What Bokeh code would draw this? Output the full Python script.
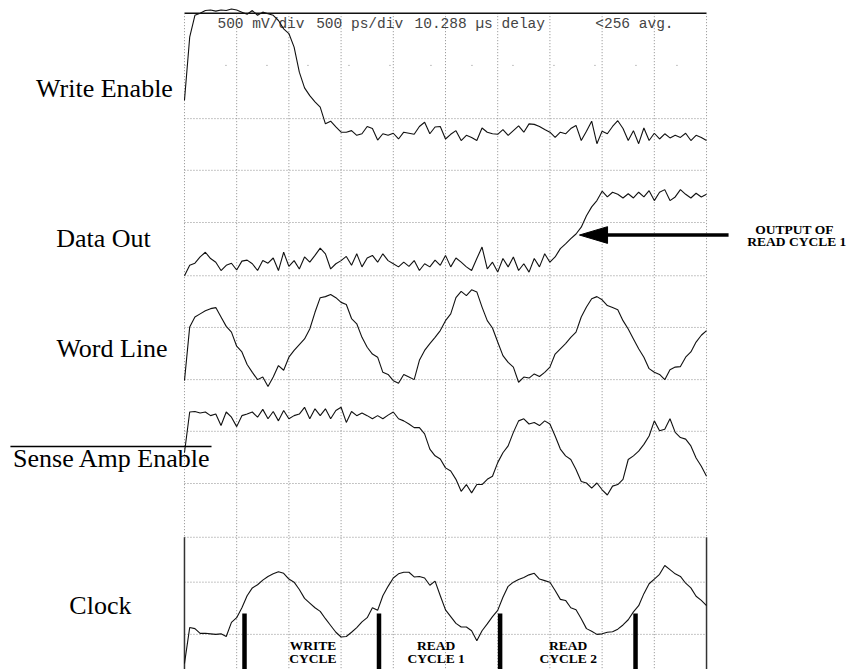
from bokeh.plotting import figure
from bokeh.models import Range1d
from bokeh.core.properties import value
from bokeh.embed import file_html
from bokeh.resources import INLINE

# ---------------- data (time in ps, level in graticule divisions below the top edge) -------------
t_ps = [0, 50, 100, 150, 200, 250, 300, 350, 400, 450,
        500, 550, 600, 650, 700, 750, 800, 850, 900, 950,
        1000, 1050, 1100, 1150, 1200, 1250, 1300, 1350, 1400, 1450,
        1500, 1550, 1600, 1650, 1700, 1750, 1800, 1850, 1900, 1950,
        2000, 2050, 2100, 2150, 2200, 2250, 2300, 2350, 2400, 2450,
        2500, 2550, 2600, 2650, 2700, 2750, 2800, 2850, 2900, 2950,
        3000, 3050, 3100, 3150, 3200, 3250, 3300, 3350, 3400, 3450,
        3500, 3550, 3600, 3650, 3700, 3750, 3800, 3850, 3900, 3950,
        4000, 4050, 4100, 4150, 4200, 4250, 4300, 4350, 4400, 4450,
        4500, 4550, 4600, 4650, 4700, 4750, 4800, 4850, 4900, 4950,
        5000]

write_enable = [1.67, 0.46, 0.04, 0.00, -0.05, -0.06, -0.04, -0.06, -0.05, -0.08,
                -0.06, -0.02, 0.02, -0.05, 0.04, -0.02, 0.01, 0.04, 0.14, 0.30,
                0.39, 0.65, 1.13, 1.43, 1.58, 1.70, 1.80, 2.12, 2.07, 2.18,
                2.28, 2.28, 2.25, 2.34, 2.31, 2.17, 2.21, 2.43, 2.31, 2.34,
                2.30, 2.41, 2.28, 2.30, 2.32, 2.17, 2.09, 2.31, 2.18, 2.17,
                2.41, 2.32, 2.25, 2.44, 2.34, 2.38, 2.44, 2.20, 2.28, 2.31,
                2.32, 2.23, 2.34, 2.25, 2.16, 2.28, 2.12, 2.13, 2.17, 2.23,
                2.28, 2.38, 2.28, 2.31, 2.21, 2.15, 2.44, 2.26, 2.07, 2.50,
                2.26, 2.31, 2.17, 2.06, 2.21, 2.44, 2.25, 2.50, 2.20, 2.44,
                2.30, 2.41, 2.31, 2.39, 2.34, 2.38, 2.30, 2.44, 2.34, 2.38,
                2.44]

data_out = [5.03, 4.83, 4.79, 4.67, 4.58, 4.70, 4.77, 4.93, 4.83, 4.79,
            4.92, 4.75, 4.73, 4.80, 4.93, 4.74, 4.79, 4.69, 4.93, 4.58,
            4.85, 4.74, 4.90, 4.67, 4.77, 4.64, 4.50, 4.61, 4.90, 4.80,
            4.74, 4.66, 4.83, 4.61, 4.86, 4.69, 4.64, 4.77, 4.61, 4.74,
            4.80, 4.86, 4.77, 4.85, 4.74, 4.93, 4.80, 4.86, 4.73, 4.83,
            4.64, 4.86, 4.69, 4.77, 4.86, 4.93, 4.70, 4.48, 4.90, 4.77,
            4.96, 4.70, 4.86, 4.67, 4.93, 4.80, 4.96, 4.70, 4.86, 4.61,
            4.77, 4.67, 4.51, 4.42, 4.32, 4.23, 4.10, 3.88, 3.71, 3.59,
            3.41, 3.52, 3.43, 3.47, 3.54, 3.46, 3.54, 3.43, 3.52, 3.40,
            3.59, 3.43, 3.38, 3.59, 3.52, 3.38, 3.47, 3.54, 3.45, 3.52,
            3.47]

word_line = [7.04, 6.01, 5.82, 5.76, 5.70, 5.66, 5.64, 5.82, 6.00, 6.11,
             6.38, 6.49, 6.73, 6.88, 7.02, 6.97, 7.15, 6.97, 6.75, 6.84,
             6.59, 6.46, 6.35, 6.24, 6.05, 5.73, 5.45, 5.43, 5.39, 5.45,
             5.54, 5.58, 5.85, 5.95, 6.21, 6.40, 6.53, 6.59, 6.88, 6.92,
             7.04, 7.09, 6.92, 6.97, 7.02, 6.65, 6.46, 6.33, 6.21, 6.08,
             5.89, 5.76, 5.45, 5.33, 5.41, 5.30, 5.34, 5.63, 5.89, 6.03,
             6.30, 6.56, 6.69, 6.78, 7.07, 6.97, 6.99, 6.91, 6.96, 6.88,
             6.78, 6.53, 6.43, 6.33, 6.21, 6.11, 5.82, 5.63, 5.47, 5.43,
             5.49, 5.60, 5.64, 5.68, 5.89, 6.05, 6.24, 6.43, 6.59, 6.81,
             6.88, 6.92, 7.02, 6.83, 6.78, 6.77, 6.59, 6.49, 6.30, 6.17,
             6.08]

sense_amp_enable = [8.42, 7.64, 7.63, 7.66, 7.64, 7.71, 7.68, 7.90, 7.64, 7.74,
                    7.92, 7.71, 7.68, 7.64, 7.74, 7.59, 7.77, 7.63, 7.81, 7.61,
                    7.77, 7.71, 7.68, 7.55, 7.77, 7.58, 7.71, 7.58, 7.77, 7.61,
                    7.55, 7.84, 7.63, 7.71, 7.66, 7.71, 7.77, 7.71, 7.77, 7.70,
                    7.64, 7.77, 7.81, 7.87, 7.94, 7.94, 8.06, 8.35, 8.48, 8.54,
                    8.71, 8.77, 8.93, 9.16, 9.03, 9.19, 9.03, 9.03, 8.93, 8.87,
                    8.61, 8.42, 8.29, 8.03, 7.81, 7.77, 7.87, 7.84, 7.90, 7.81,
                    7.87, 8.10, 8.35, 8.48, 8.55, 8.74, 8.97, 9.00, 9.10, 9.00,
                    9.13, 9.23, 9.06, 9.03, 8.93, 8.55, 8.48, 8.39, 8.26, 8.10,
                    7.81, 8.00, 7.97, 7.77, 8.03, 8.13, 8.16, 8.29, 8.52, 8.68,
                    8.87]

clock = [12.46, 11.77, 11.79, 11.88, 11.88, 11.89, 11.90, 11.89, 11.94, 11.67,
         11.58, 11.39, 11.16, 11.01, 10.95, 10.86, 10.79, 10.74, 10.70, 10.73,
         10.84, 10.90, 11.04, 11.21, 11.30, 11.39, 11.46, 11.60, 11.73, 11.86,
         11.95, 11.94, 11.86, 11.77, 11.66, 11.58, 11.39, 11.44, 11.16, 10.98,
         10.82, 10.74, 10.71, 10.71, 10.80, 10.79, 10.82, 10.96, 10.88, 11.16,
         11.43, 11.56, 11.69, 11.76, 11.76, 11.83, 12.02, 11.83, 11.70, 11.56,
         11.44, 11.19, 10.98, 10.90, 10.85, 10.81, 10.76, 10.73, 10.84, 10.87,
         10.90, 11.06, 11.23, 11.25, 11.39, 11.43, 11.60, 11.79, 11.84, 11.90,
         11.89, 11.86, 11.85, 11.80, 11.72, 11.62, 11.47, 11.35, 11.12, 10.93,
         10.84, 10.75, 10.58, 10.66, 10.74, 10.79, 10.92, 11.01, 11.17, 11.25,
         11.35]

trace_names = ["Write Enable", "Data Out", "Word Line", "Sense Amp Enable", "Clock"]
cycle_edges_ps = [575, 1863, 3023, 4320]
cycle_line1 = ["WRITE", "READ", "READ"]
cycle_line2 = ["CYCLE", "CYCLE 1", "CYCLE 2"]
scope_settings = ["500 mV/div", "500 ps/div", "10.288 \u00b5s delay", "<256 avg."]
callout_lines = ["OUTPUT OF", "READ CYCLE  1"]

# ---------------- layout / style ----------------
PS_PER_DIV = 500
N_DIV = 10
SCREEN_END = PS_PER_DIV * N_DIV
GRID_COLOR = "#8c8c8c"
INK = "#111111"
SERIF = value("Liberation Serif")

p = figure(width=852, height=669, output_backend="svg", toolbar_location=None,
           x_range=Range1d(-1762, 6398), y_range=Range1d(12.573, -0.243),
           x_axis_location=None, y_axis_location=None, min_border=0,
           outline_line_color=None, background_fill_color="white",
           border_fill_color="white")
p.grid.grid_line_color = None

# graticule
col_x = [PS_PER_DIV * i for i in range(1, N_DIV)]
p.segment(x0=col_x, y0=[0] * len(col_x), x1=col_x, y1=[12.7] * len(col_x),
          line_color=GRID_COLOR, line_width=1, line_dash="1 2")
rows = [2.02, 3.01, 4.01, 5.03, 6.02, 7.02, 8.01, 9.01, 10.04, 10.90, 11.90]
p.segment(x0=[0] * len(rows), y0=rows, x1=[SCREEN_END] * len(rows), y1=rows,
          line_color=GRID_COLOR, line_width=1, line_dash="1 2")
p.segment(x0=[0], y0=[1.0], x1=[SCREEN_END], y1=[1.0],
          line_color=GRID_COLOR, line_width=1, line_dash="1 40")
# screen borders
p.segment(x0=[0], y0=[0], x1=[SCREEN_END], y1=[0], line_color=INK, line_width=1.5)
p.segment(x0=[0, SCREEN_END], y0=[0, 0], x1=[0, SCREEN_END], y1=[10.04, 10.04],
          line_color=GRID_COLOR, line_width=1, line_dash="1 2")
p.segment(x0=[0, SCREEN_END], y0=[10.04, 10.04], x1=[0, SCREEN_END], y1=[12.7, 12.7],
          line_color="#333333", line_width=1.5)

# scope settings header
hdr_x = [316, 1261, 2203, 3934]
p.text(x=hdr_x, y=[0.21] * 4, text=scope_settings, text_font=value("Liberation Mono"),
       text_font_size="14.5px", text_color="#444444", text_baseline="alphabetic",
       text_align="left")

# traces
for series in [write_enable, data_out, word_line, sense_amp_enable, clock]:
    p.line(t_ps, series, line_color=INK, line_width=1.1)

# trace labels on the left
lab_x = [-766, -776, -694, -694, -805]
lab_y = [1.445, 4.32, 6.42, 8.53, 11.35]
p.text(x=lab_x, y=lab_y, text=trace_names, text_font=SERIF, text_font_size="26px",
       text_color="black", text_align="center", text_baseline="alphabetic")
# overbar on Sense Amp Enable (active-low)
p.segment(x0=[-1667], y0=[8.30], x1=[259], y1=[8.30], line_color="black", line_width=1.5)

# cycle boundary markers on the clock
p.segment(x0=cycle_edges_ps, y0=[11.50] * 4, x1=cycle_edges_ps, y1=[12.7] * 4,
          line_color="black", line_width=4.5, line_cap="butt")
cyc_x = [1230, 2410, 3675]
p.text(x=cyc_x, y=[12.11] * 3, text=cycle_line1, text_font=SERIF, text_font_style="bold",
       text_font_size="13.5px", text_color="black", text_align="center",
       text_baseline="alphabetic")
p.text(x=cyc_x, y=[12.36] * 3, text=cycle_line2, text_font=SERIF, text_font_style="bold",
       text_font_size="13.5px", text_color="black", text_align="center",
       text_baseline="alphabetic")

# callout arrow for the read-cycle-1 output
ARROW_Y = 4.25
ARROW_TIP, ARROW_BASE, ARROW_TAIL, ARROW_HALF = 3783, 4052, 5211, 0.16
p.segment(x0=[ARROW_BASE - 20], y0=[ARROW_Y], x1=[ARROW_TAIL], y1=[ARROW_Y],
          line_color="black", line_width=3.5)
p.patch(x=[ARROW_TIP, ARROW_BASE, ARROW_BASE],
        y=[ARROW_Y, ARROW_Y - ARROW_HALF, ARROW_Y + ARROW_HALF],
        fill_color="black", line_color="black")
p.text(x=[5843, 5881], y=[4.15, 4.38], text=callout_lines, text_font=SERIF,
       text_font_style="bold", text_font_size="13.5px", text_color="black",
       text_align="center", text_baseline="alphabetic")

open("out.html", "w").write(file_html(p, INLINE))
